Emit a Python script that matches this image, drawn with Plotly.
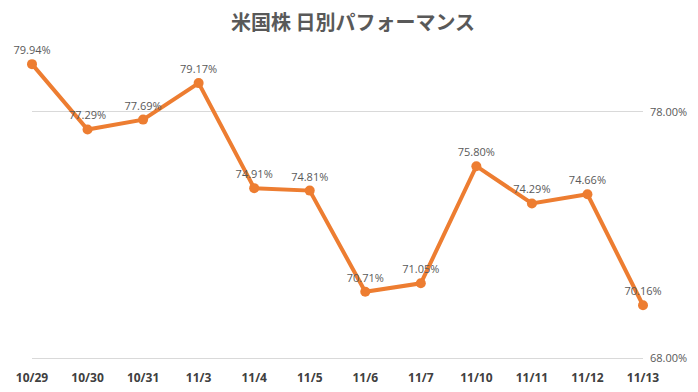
import plotly.graph_objects as go

dates = ["10/29", "10/30", "10/31", "11/3", "11/4", "11/5", "11/6", "11/7", "11/10", "11/11", "11/12", "11/13"]
values = [79.94, 77.29, 77.69, 79.17, 74.91, 74.81, 70.71, 71.05, 75.80, 74.29, 74.66, 70.16]
labels = [f"{v:.2f}%" for v in values]
title = "米国株 日別パフォーマンス"

fig = go.Figure(go.Scatter(
    x=dates, y=values, mode="lines+markers+text",
    line=dict(color="#ED7D31", width=4),
    marker=dict(color="#ED7D31", size=10),
    text=labels, textposition="top center",
    textfont=dict(family="Open Sans, sans-serif", size=11, color="#595959"),
    cliponaxis=False,
))

fig.update_layout(
    width=690, height=384,
    margin=dict(l=24, r=55, t=30, b=31),
    paper_bgcolor="white", plot_bgcolor="white",
    showlegend=False,
    title=dict(text=title, x=0.5, xanchor="center", y=0.962, yanchor="middle",
               font=dict(family="Noto Sans CJK JP", size=20, color="#595959", weight="bold")),
    xaxis=dict(type="category", range=[0, 11], showgrid=False, zeroline=False,
               showline=False, ticks="", automargin=False, ticklabelstandoff=8,
               tickfont=dict(family="Open Sans, sans-serif", size=12, color="#404040", weight="bold")),
    yaxis=dict(side="right", range=[67.9, 81], tick0=68, dtick=10, ticksuffix="%",
               tickformat=".2f", showgrid=True, gridcolor="#d9d9d9", gridwidth=1,
               zeroline=False, showline=False, ticks="", ticklabelstandoff=6, automargin=False,
               tickfont=dict(family="Open Sans, sans-serif", size=11, color="#595959")),
)

fig.write_html("out.html")
